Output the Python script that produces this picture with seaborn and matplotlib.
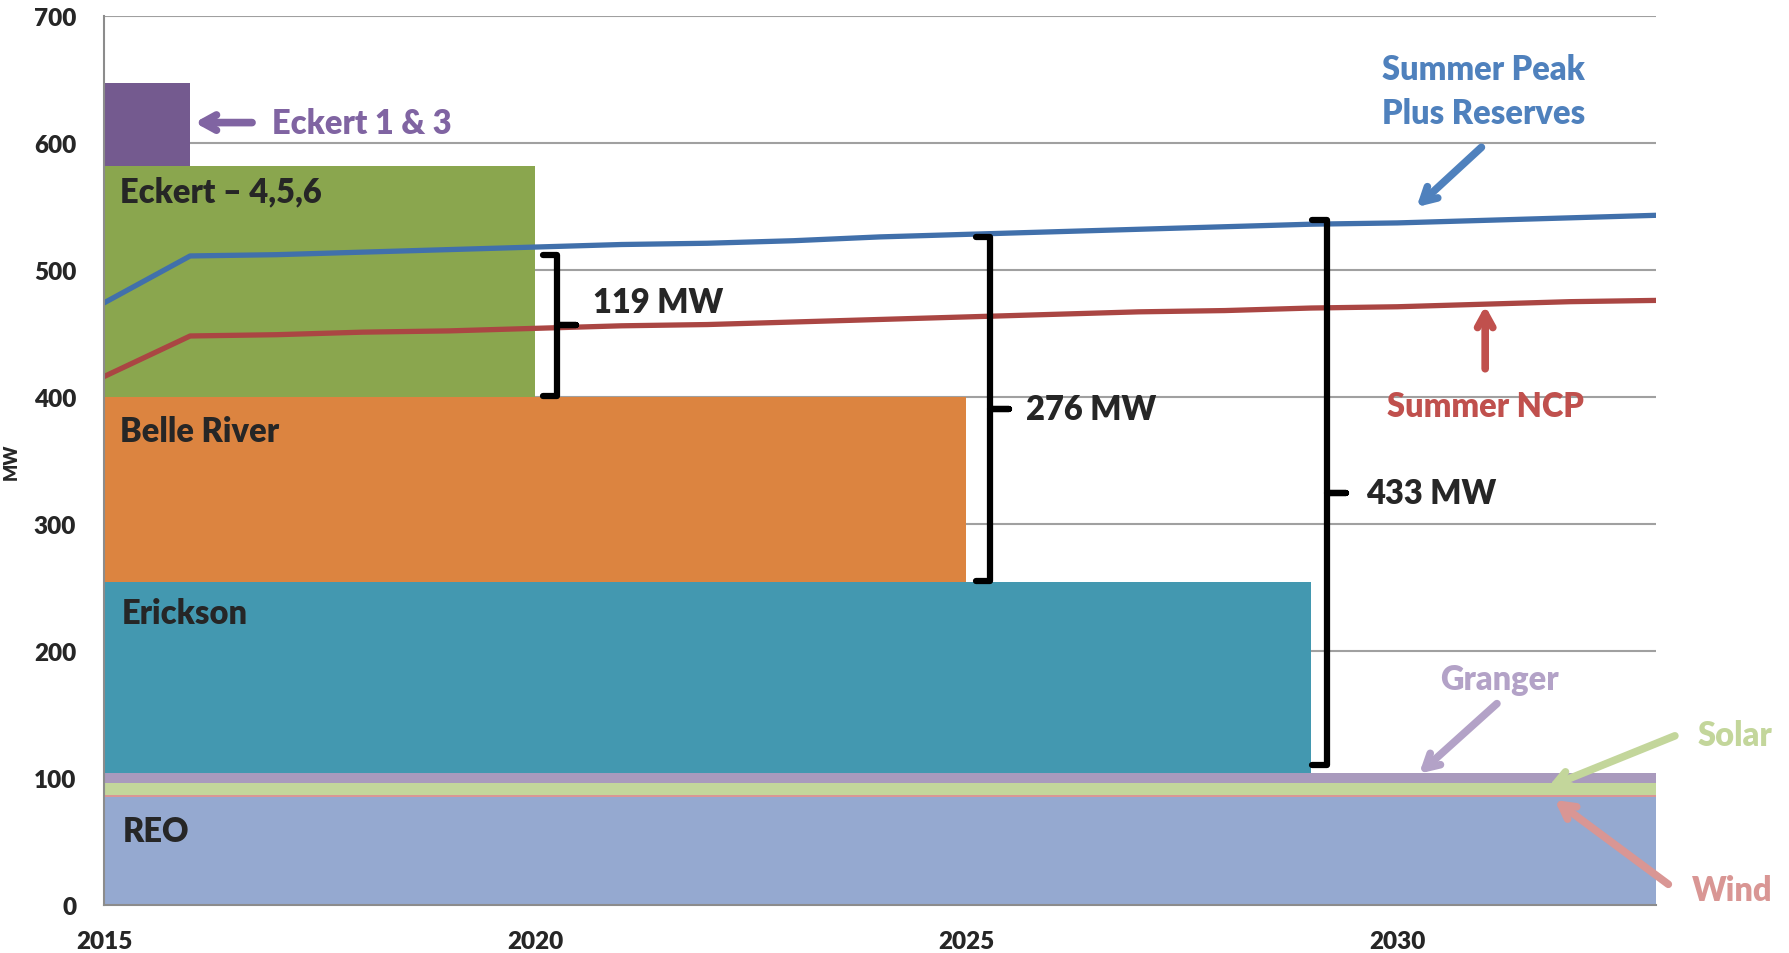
import numpy as np
import pandas as pd
import matplotlib
matplotlib.use("Agg")
import matplotlib.pyplot as plt
import seaborn as sns

sns.set_style("white")
plt.rcParams['font.family'] = ['Lato', 'DejaVu Sans']
plt.rcParams['font.weight'] = 'bold'

# ---- data (MW) ----
years = list(range(2015, 2034))
reo = [85] * 19
wind = [2] * 19
solar = [9] * 19
granger = [8] * 19
erickson = [150] * 14 + [0] * 5
belle_river = [146] * 10 + [0] * 9
eckert_456 = [182] * 5 + [0] * 14
eckert_13 = [65] + [0] * 18

peak_reserves = [474, 511, 512, 514, 516, 518, 520, 521, 523, 526,
                 528, 530, 532, 534, 536, 537, 539, 541, 543]
summer_ncp = [416, 448, 449, 451, 452, 454, 456, 457, 459, 461,
              463, 465, 467, 468, 470, 471, 473, 475, 476]

layers = [("REO", reo, "#95A9D0"),
          ("Wind", wind, "#D99694"),
          ("Solar", solar, "#C3D69B"),
          ("Granger", granger, "#A99ABD"),
          ("Erickson", erickson, "#4398B0"),
          ("Belle River", belle_river, "#DC8440"),
          ("Eckert 4,5,6", eckert_456, "#8AA64E"),
          ("Eckert 1 & 3", eckert_13, "#745A8F")]

fig = plt.figure(figsize=(17.89, 9.54), dpi=100)
ax = fig.add_axes([0.0581, 0.0503, 0.8675, 0.932])

# stacked capacity blocks (each year's value holds until the next year)
base = np.zeros(len(years))
for name, vals, col in layers:
    vals = np.array(vals, dtype=float)
    top = base + vals
    on = vals > 0
    on[1:] |= on[:-1]
    ax.fill_between(years, base, top, where=on, step="post",
                    color=col, lw=0, zorder=2)
    base = top

# load lines
df = pd.DataFrame({"year": years * 2,
                   "MW": peak_reserves + summer_ncp,
                   "series": ["Summer Peak Plus Reserves"] * 19 + ["Summer NCP"] * 19})
sns.lineplot(data=df, x="year", y="MW", hue="series", ax=ax, legend=False,
             palette={"Summer Peak Plus Reserves": "#4170AB", "Summer NCP": "#AA4643"},
             linewidth=3.8, zorder=4)

# axes styling
ax.set_xlim(2015, 2033)
ax.set_ylim(0, 700)
ax.set_yticks(range(0, 701, 100))
ax.set_xticks([2015, 2020, 2025, 2030])
ax.set_xticks(years, minor=True)
ax.grid(axis="y", color="#A0A0A0", lw=1.5, zorder=1)
ax.set_axisbelow(True)
for s in ["top", "right"]:
    ax.spines[s].set_visible(False)
for s in ["left", "bottom"]:
    ax.spines[s].set_color("#8C8C8C")
    ax.spines[s].set_linewidth(1.5)
    ax.spines[s].set_zorder(5)
ax.tick_params(axis="y", length=0, labelsize=17.5, pad=20)
ax.tick_params(axis="x", which="both", direction="inout", length=12,
               width=1.5, color="#8C8C8C", labelsize=17.5, pad=12)
for lab in ax.get_xticklabels() + ax.get_yticklabels():
    lab.set_fontweight("heavy")
ax.set_xlabel("")
ax.set_ylabel("MW", fontsize=13, fontweight="heavy", labelpad=10)

# block labels
fs = 23.5
ax.text(2015.19, 562, "Eckert – 4,5,6", fontsize=fs, fontweight="heavy", va="center")
ax.text(2015.19, 373, "Belle River", fontsize=fs, fontweight="heavy", va="center")
ax.text(2015.21, 230, "Erickson", fontsize=fs, fontweight="heavy", va="center")
ax.text(2015.22, 58, "REO", fontsize=fs, fontweight="heavy", va="center")

# pointer labels
arrow = dict(arrowstyle="->,head_length=1.0,head_width=0.55", lw=5.5)
def pointer(txt, xy, xytext, col, tx=None, ha="center"):
    ax.annotate("", xy=xy, xytext=xytext,
                arrowprops=dict(arrow, color=col), zorder=6)
    if tx is not None:
        ax.text(tx[0], tx[1], txt, color=col, fontsize=fs, fontweight="heavy",
                ha=ha, va="center", linespacing=1.45)

pointer("Eckert 1 & 3", (2016.02, 616), (2016.75, 616), "#8064A2", (2016.95, 616), ha="left")
pointer("Summer Peak\nPlus Reserves", (2030.2, 548), (2031.0, 598), "#4F81BD", (2031.0, 641))
pointer("Summer NCP", (2031.02, 474), (2031.02, 420), "#C0504D", (2031.02, 393))
pointer("Granger", (2030.23, 102), (2031.18, 160), "#B3A2C7", (2031.18, 178))
pointer("Solar", (2031.72, 92), (2033.25, 134), "#C3D69B", (2033.92, 134))
pointer("Wind", (2031.8, 84), (2033.17, 15), "#D99694", (2033.88, 12))

# gap brackets
def bracket(x, top, bottom, label, lx, dy=0):
    mid = (top + bottom) / 2
    xs = [x - 0.17, x, x, x + 0.22, x, x, x - 0.17]
    ys = [top, top, mid, mid, mid, bottom, bottom]
    ax.plot(xs, ys, color="black", lw=4.5, solid_joinstyle="round",
            solid_capstyle="round", zorder=6, clip_on=False)
    ax.text(lx, mid + dy, label, fontsize=fs, fontweight="heavy", va="center")

bracket(2020.26, 512, 401, "119 MW", 2020.67, dy=18)
bracket(2025.28, 526, 255, "276 MW", 2025.7)
bracket(2029.18, 539, 110, "433 MW", 2029.64)

fig.savefig("out.png", dpi=100)
